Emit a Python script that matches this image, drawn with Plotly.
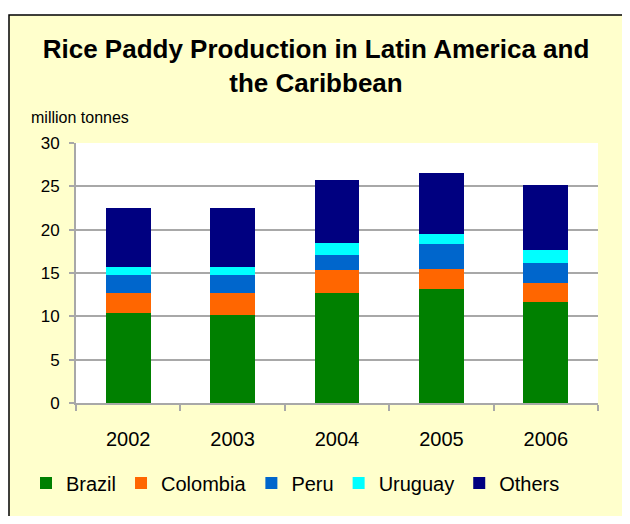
import plotly.graph_objects as go

years = ["2002", "2003", "2004", "2005", "2006"]
brazil = [10.4, 10.2, 12.7, 13.2, 11.6]
colombia = [2.3, 2.5, 2.6, 2.3, 2.3]
peru = [2.1, 2.1, 1.8, 2.8, 2.3]
uruguay = [0.95, 0.95, 1.4, 1.15, 1.4]
others = [6.75, 6.75, 7.25, 7.05, 7.5]

series = [
    ("Brazil", brazil, "#008000"),
    ("Colombia", colombia, "#FF6600"),
    ("Peru", peru, "#0066CC"),
    ("Uruguay", uruguay, "#00FFFF"),
    ("Others", others, "#000080"),
]

OFF = 8  # page body margin
W, H = 630 - 2 * OFF, 524 - 2 * OFF
L, R, T = 76 - OFF, W - (598 - OFF), 143 - OFF
B = H - (403 - OFF)
pw, ph = W - L - R, H - T - B

def px_x(p):
    return (p - OFF - L) / pw

def px_y(p):
    return (403 - p) / ph

fig = go.Figure()
for name, vals, col in series:
    fig.add_trace(go.Bar(x=years, y=vals, name=name, marker=dict(color=col, line=dict(width=0))))

font = "Liberation Sans, Arial, sans-serif"

fig.update_layout(
    width=W, height=H,
    margin=dict(l=L, r=R, t=T, b=B, autoexpand=False),
    barmode="stack",
    bargap=0.57,
    paper_bgcolor="white",
    plot_bgcolor="rgba(0,0,0,0)",
    font=dict(family=font, color="black"),
    title=dict(
        text="<b>Rice Paddy Production in Latin America and<br>the Caribbean</b>",
        x=(316 - OFF) / W, xanchor="center", xref="container",
        y=1 - (58 - OFF) / H, yanchor="top", yref="container",
        font=dict(size=26, family=font, color="black"),
    ),
    legend=dict(
        orientation="h", xref="paper", x=px_x(26), xanchor="left",
        y=px_y(483), yanchor="middle",
        traceorder="normal", font=dict(size=20, family=font, color="black"),
        bgcolor="rgba(0,0,0,0)",
    ),
    shapes=[
        dict(type="rect", xref="paper", yref="paper", x0=px_x(9), x1=px_x(629),
             y0=px_y(523), y1=px_y(15), fillcolor="#FFFFCC",
             line=dict(color="black", width=1.5), layer="below"),
        dict(type="rect", xref="paper", yref="paper", x0=0, x1=1, y0=0, y1=1,
             fillcolor="white", line=dict(width=0), layer="below"),
    ],
    annotations=[
        dict(text="million tonnes", xref="paper", yref="paper", x=px_x(29), y=px_y(118),
             xanchor="left", yanchor="middle", showarrow=False,
             font=dict(size=16, family=font, color="black")),
    ],
)

fig.update_yaxes(
    range=[0, 30], dtick=5, showgrid=True, gridcolor="#A8A8A8", gridwidth=1.5,
    showline=True, linecolor="#A8A8A8", linewidth=2, ticks="outside", ticklen=5,
    tickcolor="#A8A8A8", tickwidth=2, zeroline=False, ticklabelstandoff=6,
    tickfont=dict(size=17, family=font, color="black"),
)
fig.update_xaxes(
    showline=True, linecolor="#A8A8A8", linewidth=2, ticks="outside", ticklen=6,
    tickcolor="#A8A8A8", tickwidth=2, tickson="boundaries", showgrid=False,
    tickfont=dict(size=20, family=font, color="black"), ticklabelstandoff=17,
)

fig.write_html("out.html")
